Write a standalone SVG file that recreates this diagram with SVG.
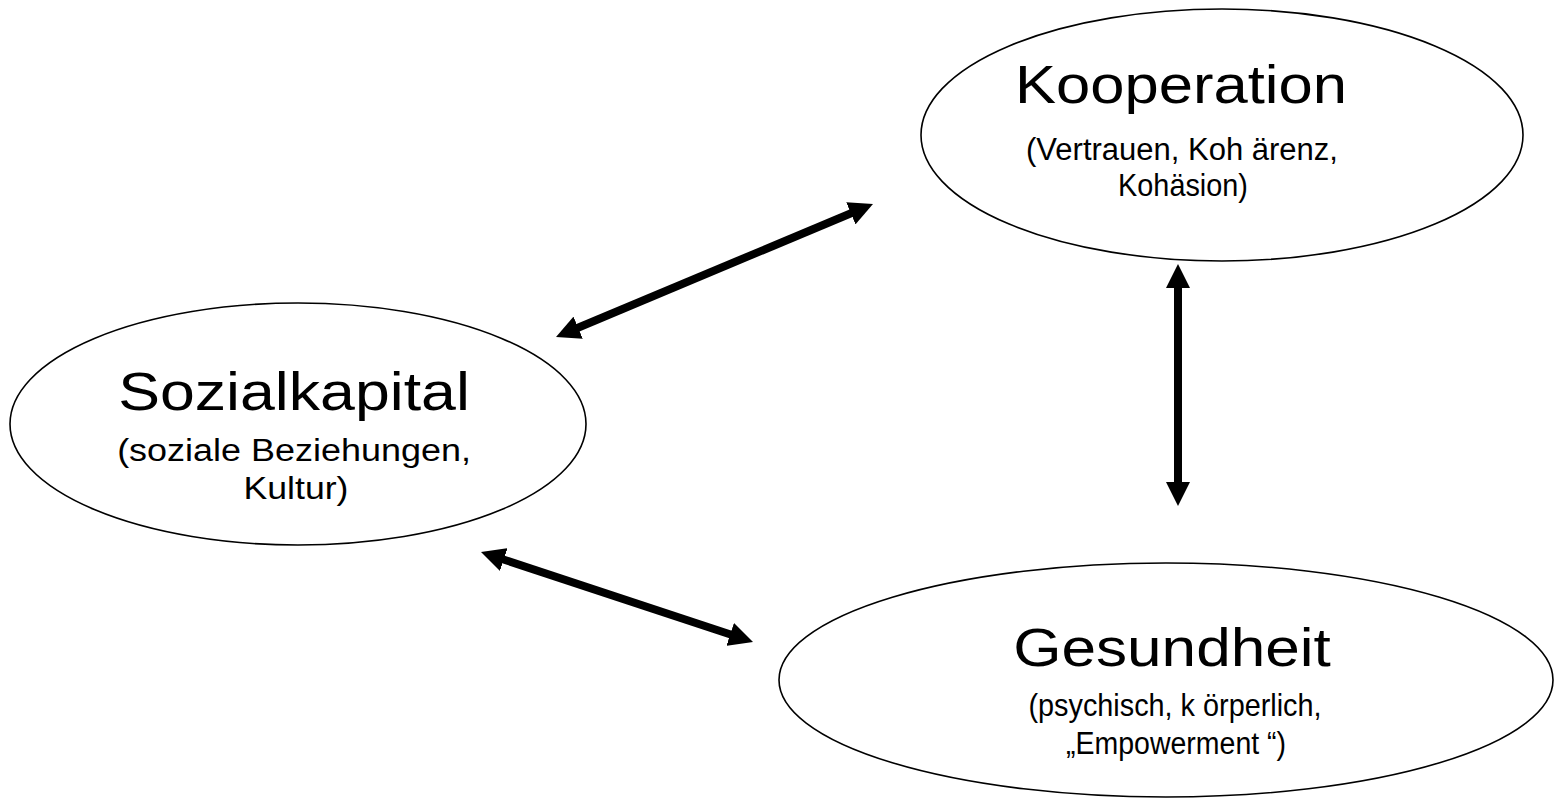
<svg xmlns="http://www.w3.org/2000/svg" width="1554" height="799" viewBox="0 0 1554 799">
  <style>
    .bubble { fill: #ffffff; stroke: #000000; stroke-width: 1.6; }
    .title { font-family: "Liberation Sans", Arial, sans-serif; font-size: 54px; fill: #000000; text-anchor: middle; }
    .sub { font-family: "Liberation Sans", Arial, sans-serif; font-size: 31px; fill: #000000; text-anchor: middle; }
    .link { stroke: #000000; stroke-width: 8; fill: none; marker-start: url(#head); marker-end: url(#head); }
  </style>
  <defs>
    <marker id="head" markerUnits="userSpaceOnUse" markerWidth="24" markerHeight="24" refX="6" refY="12" orient="auto-start-reverse" viewBox="0 0 24 24">
      <path d="M0,0 L24,12 L0,24 Z" fill="#000000"/>
    </marker>
  </defs>
  <rect width="1554" height="799" fill="#ffffff"/>

  <!-- Two-way relations between the three concepts -->
  <g id="connectors">
    <line class="link" x1="572.6" y1="330" x2="856.4" y2="211"/>
    <line class="link" x1="1178" y1="282" x2="1178" y2="488"/>
    <line class="link" x1="498.1" y1="557.7" x2="735.9" y2="636.3"/>
  </g>

  <!-- Labels keep the horizontal scaling of the slide they come from -->
  <g id="kooperation">
    <ellipse class="bubble" cx="1222" cy="135" rx="301" ry="126"/>
    <text class="title" transform="translate(1181,103) scale(1.14,1)">Kooperation</text>
    <text class="sub" transform="translate(1182,160) scale(1,1)">(Vertrauen, Koh ärenz,</text>
    <text class="sub" transform="translate(1183,196) scale(0.93,1)">Kohäsion)</text>
  </g>

  <g id="sozialkapital">
    <ellipse class="bubble" cx="298" cy="424" rx="288" ry="121"/>
    <text class="title" transform="translate(294,410) scale(1.16,1)">Sozialkapital</text>
    <text class="sub" transform="translate(294,461) scale(1.16,1)">(soziale Beziehungen,</text>
    <text class="sub" transform="translate(296,499) scale(1.15,1)">Kultur)</text>
  </g>

  <g id="gesundheit">
    <ellipse class="bubble" cx="1166" cy="680" rx="387" ry="117"/>
    <text class="title" transform="translate(1172,666) scale(1.15,1)">Gesundheit</text>
    <text class="sub" transform="translate(1175,716) scale(0.93,1)">(psychisch, k örperlich,</text>
    <text class="sub" transform="translate(1176,754) scale(0.92,1)">„Empowerment “)</text>
  </g>
</svg>
